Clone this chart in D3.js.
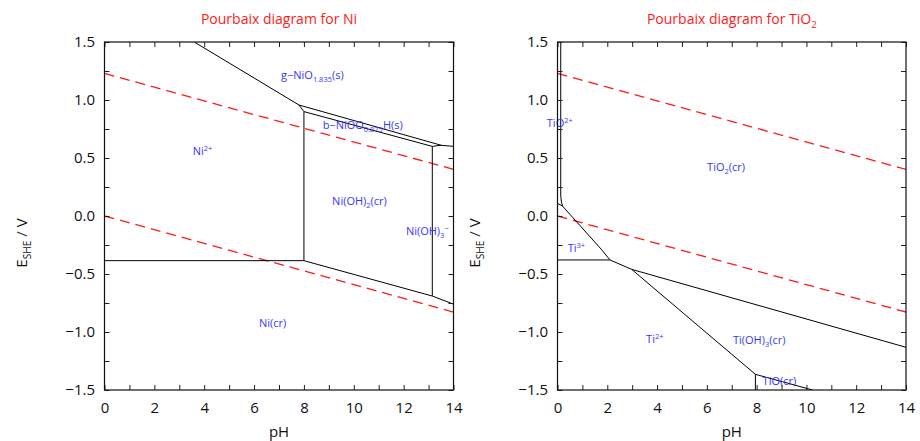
<!DOCTYPE html>
<html>
<head>
<meta charset="utf-8">
<script src="https://cdn.jsdelivr.net/npm/d3@7"></script>
<style>
  html, body { margin: 0; padding: 0; background: #fff; }
  svg { display: block; font-family: "Open Sans", "Noto Sans", sans-serif; }
</style>
</head>
<body>
<svg id="chart" width="920" height="441"></svg>
<script>
// pH and potential ranges shared by both diagrams
const phDomain = [0, 14];
const eDomain = [-1.5, 1.5];
const phTicks = d3.range(0, 15, 1);
const phLabels = [0, 2, 4, 6, 8, 10, 12, 14];
const eTicks = d3.range(-1.5, 1.501, 0.25);
const eLabels = [-1.5, -1.0, -0.5, 0.0, 0.5, 1.0, 1.5];

// Water stability limits (O2/H2O and H+/H2), E vs SHE at pH 0 and 14
const waterO2 = [[0, 1.229], [14, 0.402]];
const waterH2 = [[0, 0.0], [14, -0.828]];

// Ni-H2O predominance boundaries, [pH, E] vertices
const niBoundaries = [
  [[3.6, 1.5], [7.8, 0.957], [13.5, 0.61], [14, 0.60]],
  [[7.8, 0.957], [8.0, 0.90], [13.15, 0.60], [13.5, 0.61]],
  [[0, -0.385], [8.0, -0.385]],
  [[8.0, 0.90], [8.0, -0.385]],
  [[8.0, -0.385], [13.15, -0.69], [14, -0.76]],
  [[13.15, 0.60], [13.15, -0.69]]
];
// Species names and where they sit, [pH, E]
const niSpecies = ["g−NiO_{1.835}(s)", "b−NiOO_{0.875}H(s)", "Ni^{2+}", "Ni(OH)_{2}(cr)", "Ni(OH)_{3}^{−}", "Ni(cr)"];
const niSpeciesAt = [[7.08, 1.181], [8.75, 0.75], [3.54, 0.526], [9.13, 0.095], [12.09, -0.164], [6.2, -0.957]];

// Ti-H2O predominance boundaries, [pH, E] vertices
const tiBoundaries = [
  [[0.13, 1.5], [0.13, 0.17], [0.16, 0.12], [0.2, 0.086]],
  [[0, 0.109], [0.2, 0.086]],
  [[0.2, 0.086], [1.75, -0.285], [2.11, -0.379]],
  [[0, -0.379], [2.11, -0.379]],
  [[2.11, -0.379], [2.98, -0.46]],
  [[2.98, -0.46], [14, -1.132]],
  [[2.98, -0.46], [7.95, -1.365]],
  [[7.95, -1.365], [7.95, -1.5]],
  [[7.95, -1.365], [10.25, -1.5]]
];
const tiSpecies = ["TiO^{2+}", "TiO_{2}(cr)", "Ti^{3+}", "Ti^{2+}", "Ti(OH)_{3}(cr)", "TiO(cr)"];
const tiSpeciesAt = [[-0.43, 0.77], [6.01, 0.39], [0.41, -0.308], [3.56, -1.095], [7.05, -1.105], [8.24, -1.457]];

const titles = ["Pourbaix diagram for Ni", "Pourbaix diagram for TiO_{2}"];
const xTitle = "pH";
const yTitle = "E_{SHE} / V";

const svg = d3.select("#chart");

// Writes "A_{sub}^{sup}" markup into a text element as tspans
function richText(sel, str, size) {
  const parts = [];
  const re = /([_^])\{([^}]*)\}|([^_^]+)/g;
  let m;
  while ((m = re.exec(str)) !== null) {
    if (m[3]) parts.push({ t: m[3], k: "n" });
    else parts.push({ t: m[2], k: m[1] === "_" ? "sub" : "sup" });
  }
  let shift = 0;
  parts.forEach(p => {
    const target = p.k === "sub" ? size * 0.3 : p.k === "sup" ? -size * 0.35 : 0;
    sel.append("tspan")
      .attr("dy", target - shift)
      .attr("font-size", p.k === "n" ? size : size * 0.68)
      .text(p.t);
    shift = target;
  });
}

function panel(left, width, cfg) {
  const top = 42, height = 348;
  const x = d3.scaleLinear().domain(phDomain).range([0, width]);
  const y = d3.scaleLinear().domain(eDomain).range([height, 0]);
  const g = svg.append("g").attr("transform", `translate(${left},${top})`);

  const clipId = "clip" + cfg.id;
  g.append("clipPath").attr("id", clipId)
    .append("rect").attr("width", width).attr("height", height);
  const plot = g.append("g").attr("clip-path", `url(#${clipId})`);

  const line = d3.line().x(d => x(d[0])).y(d => y(d[1]));

  // Water lines
  plot.selectAll("path.water").data([waterO2, waterH2]).join("path")
    .attr("class", "water")
    .attr("d", line)
    .attr("fill", "none")
    .attr("stroke", "#ff1a1a")
    .attr("stroke-width", 1.3)
    .attr("stroke-dasharray", "10,6");

  // Domain boundaries
  plot.selectAll("path.bound").data(cfg.bounds).join("path")
    .attr("class", "bound")
    .attr("d", line)
    .attr("fill", "none")
    .attr("stroke", "#000")
    .attr("stroke-width", 1);

  // Species labels
  cfg.species.forEach((s, i) => {
    const p = cfg.at[i];
    const t = g.append("text")
      .attr("x", x(p[0])).attr("y", y(p[1]))
      .attr("fill", "#3535ff");
    richText(t, s, 11);
  });

  // Ticks on all four sides, pointing inward
  const fmt = d3.format(".1f");
  const bottom = g.append("g").attr("transform", `translate(0,${height})`)
    .call(d3.axisBottom(x).tickValues(phTicks).tickSize(-5).tickPadding(12)
      .tickFormat(d => phLabels.includes(d) ? d : ""));
  g.append("g").call(d3.axisTop(x).tickValues(phTicks).tickSize(-5).tickFormat(""));
  const leftAx = g.append("g")
    .call(d3.axisLeft(y).tickValues(eTicks).tickSize(-5).tickPadding(9.5)
      .tickFormat(d => eLabels.some(v => Math.abs(v - d) < 1e-9) ? fmt(d) : ""));
  g.append("g").attr("transform", `translate(${width},0)`)
    .call(d3.axisRight(y).tickValues(eTicks).tickSize(-5).tickFormat(""));
  g.selectAll(".domain").remove();
  g.selectAll(".tick line").attr("stroke", "#222").attr("stroke-width", 1);
  g.selectAll(".tick text").attr("font-size", 15).attr("fill", "#111")
    .attr("font-family", "\"Open Sans\", sans-serif");

  // Frame
  g.append("rect").attr("width", width).attr("height", height)
    .attr("fill", "none").attr("stroke", "#111").attr("stroke-width", 1.2);

  // Title
  const tt = svg.append("text")
    .attr("x", left + width / 2).attr("y", 24)
    .attr("text-anchor", "middle").attr("fill", "#ff1a1a");
  richText(tt, cfg.title, 14);

  // Axis titles
  const xt = svg.append("text")
    .attr("x", left + width / 2).attr("y", 437)
    .attr("text-anchor", "middle").attr("fill", "#111");
  richText(xt, xTitle, 15);
  const yt = svg.append("text")
    .attr("transform", `translate(${left - 78},243) rotate(-90)`)
    .attr("text-anchor", "middle").attr("fill", "#111");
  richText(yt, yTitle, 15);
}

panel(104.5, 349, { id: "ni", bounds: niBoundaries, species: niSpecies, at: niSpeciesAt, title: titles[0] });
panel(557.5, 348.5, { id: "ti", bounds: tiBoundaries, species: tiSpecies, at: tiSpeciesAt, title: titles[1] });
</script>
</body>
</html>
